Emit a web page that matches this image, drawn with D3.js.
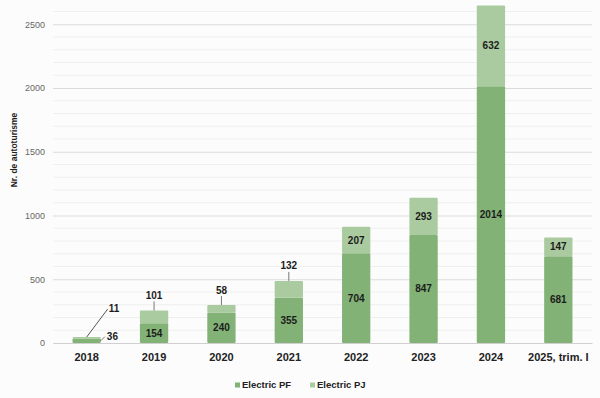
<!DOCTYPE html>
<html>
<head>
<meta charset="utf-8">
<script src="https://cdn.jsdelivr.net/npm/d3@7"></script>
<style>
  body { margin: 0; background: #fcfcfc; }
  svg { font-family: "Liberation Sans", Arial, sans-serif; }
</style>
</head>
<body>
<div id="chart"></div>
<script>
// data
var years = ["2018", "2019", "2020", "2021", "2022", "2023", "2024", "2025, trim. I"];
var electricPF = [36, 154, 240, 355, 704, 847, 2014, 681];
var electricPJ = [11, 101, 58, 132, 207, 293, 632, 147];
var seriesNames = ["Electric PF", "Electric PJ"];
var yTicks = [0, 500, 1000, 1500, 2000, 2500];

var colors = ["#82b276", "#aacb9f"];

var width = 600, height = 398;
var margin = { top: 0, right: 8, bottom: 55, left: 53 };
var innerH = height - margin.top - margin.bottom;

var svg = d3.select("#chart")
    .append("svg")
    .attr("width", width)
    .attr("height", height);

var g = svg.append("g")
    .attr("transform", "translate(" + margin.left + "," + margin.top + ")");

var xScale = d3.scaleBand()
    .domain(years)
    .range([0, width - margin.left - margin.right])
    .paddingInner(0.58)
    .paddingOuter(0.29);

var yScale = d3.scaleLinear()
    .domain([0, 2690])
    .range([innerH, 0]);

// minor grid every 100
g.append("g").selectAll("line")
    .data(d3.range(100, 2700, 100).filter(function (v) { return v % 500 !== 0; }))
    .enter().append("line")
    .attr("x1", 0)
    .attr("x2", xScale.range()[1])
    .attr("y1", function (d) { return yScale(d); })
    .attr("y2", function (d) { return yScale(d); })
    .attr("stroke", "#efefef")
    .attr("stroke-width", 1);

// y axis with major grid
var yAxis = g.append("g")
    .call(d3.axisLeft(yScale).tickValues(yTicks).tickFormat(d3.format("d"))
        .tickSize(-xScale.range()[1]).tickPadding(8));
yAxis.select(".domain").remove();
yAxis.selectAll(".tick line").attr("stroke", "#dcdcdc");
yAxis.selectAll(".tick text")
    .attr("fill", "#666")
    .style("font-size", "9px");

// stack
var table = years.map(function (y, i) {
    return { year: y, pf: electricPF[i], pj: electricPJ[i] };
});
var stacked = d3.stack().keys(["pf", "pj"])(table);

g.selectAll(".series")
    .data(stacked)
    .enter().append("g")
    .attr("fill", function (d, i) { return colors[i]; })
    .selectAll("rect")
    .data(function (d) { return d; })
    .enter().append("rect")
    .attr("x", function (d) { return xScale(d.data.year); })
    .attr("width", xScale.bandwidth())
    .attr("y", function (d) { return yScale(d[1]); })
    .attr("height", function (d) { return yScale(d[0]) - yScale(d[1]); })
    .attr("rx", 1);

// labels
var labelStyle = function (sel) {
    sel.attr("text-anchor", "middle")
        .attr("dy", "0.35em")
        .attr("fill", "#1c1c1c")
        .style("font-size", "10px")
        .style("font-weight", "bold");
};

table.forEach(function (d, i) {
    var cx = xScale(d.year) + xScale.bandwidth() / 2;
    var right = xScale(d.year) + xScale.bandwidth();
    var segPF = yScale(0) - yScale(d.pf);
    var segPJ = yScale(d.pf) - yScale(d.pf + d.pj);

    // PF label
    if (segPF > 14) {
        g.append("text").call(labelStyle)
            .attr("x", cx).attr("y", yScale(d.pf / 2)).text(d.pf);
    } else {
        g.append("line")
            .attr("x1", right).attr("y1", yScale(d.pf / 2))
            .attr("x2", right + 4).attr("y2", yScale(d.pf / 2) - 4)
            .attr("stroke", "#777");
        g.append("text").call(labelStyle)
            .attr("text-anchor", "start")
            .attr("x", right + 6).attr("y", yScale(d.pf / 2) - 4).text(d.pf);
    }

    // PJ label
    var top = yScale(d.pf + d.pj);
    if (segPJ > 18) {
        g.append("text").call(labelStyle)
            .attr("x", cx).attr("y", yScale(d.pf + d.pj / 2)).text(d.pj);
    } else if (segPF > 14) {
        g.append("line")
            .attr("x1", cx).attr("y1", top)
            .attr("x2", cx).attr("y2", top - 9)
            .attr("stroke", "#777");
        g.append("text").call(labelStyle)
            .attr("x", cx).attr("y", top - 15).text(d.pj);
    } else {
        g.append("line")
            .attr("x1", cx).attr("y1", top)
            .attr("x2", cx + 21).attr("y2", top - 28)
            .attr("stroke", "#555");
        g.append("text").call(labelStyle)
            .attr("text-anchor", "start")
            .attr("x", cx + 22).attr("y", top - 29).text(d.pj);
    }
});

// x axis
var xAxis = g.append("g")
    .attr("transform", "translate(0," + innerH + ")")
    .call(d3.axisBottom(xScale).tickSize(0).tickPadding(10));
xAxis.select(".domain").attr("stroke", "#d0d0d0");
xAxis.selectAll(".tick text")
    .attr("fill", "#222")
    .style("font-size", "11px")
    .style("font-weight", "bold");

// y title
svg.append("text")
    .attr("transform", "translate(17,150) rotate(-90)")
    .attr("text-anchor", "middle")
    .attr("fill", "#222")
    .style("font-size", "8.5px")
    .style("font-weight", "bold")
    .text("Nr. de autoturisme");

// legend
var legendX = [235, 310];
var legend = svg.append("g").selectAll("g")
    .data(seriesNames)
    .enter().append("g")
    .attr("transform", function (d, i) { return "translate(" + legendX[i] + ",385)"; });
legend.append("rect")
    .attr("x", 0).attr("y", -2.5)
    .attr("width", 5).attr("height", 5)
    .attr("fill", function (d, i) { return colors[i]; });
legend.append("text")
    .attr("x", 7).attr("dy", "0.35em")
    .attr("fill", "#222")
    .style("font-size", "9.5px")
    .style("font-weight", "bold")
    .text(function (d) { return d; });
</script>
</body>
</html>
